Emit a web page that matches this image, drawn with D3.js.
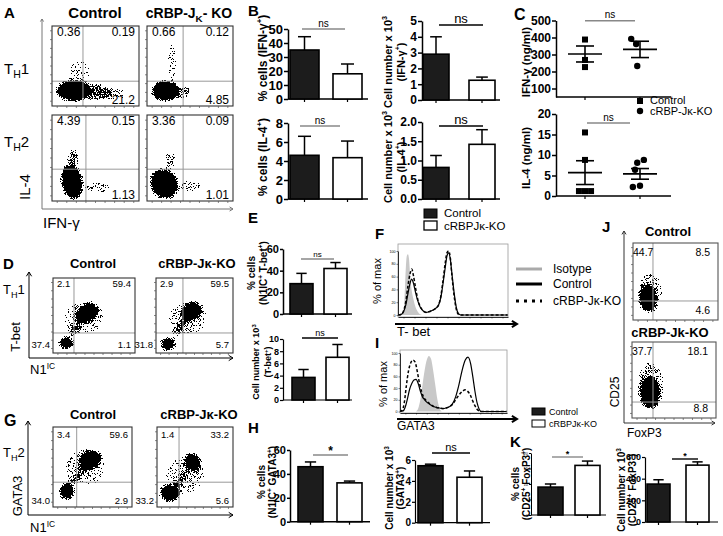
<!DOCTYPE html>
<html><head><meta charset="utf-8">
<script src="https://cdn.jsdelivr.net/npm/d3@7"></script>
<style>
body{margin:0;background:#fff;}
svg{display:block;}
</style></head><body>
<script>
// ================= DATA =================
const groups = ["Control", "cRBPJκ-KO"];

// Panel B
const ifngPctMean = [35, 18];
const ifngPctErrTop = [44.5, 25];
const ifngPctTicks = [0, 10, 20, 30, 40, 50];
const ifngNumMean = [2.9, 1.25];
const ifngNumErrTop = [4.0, 1.45];
const ifngNumTicks = [0, 1, 2, 3, 4, 5];
const il4PctMean = [4.6, 4.35];
const il4PctErrTop = [6.6, 6.1];
const il4PctTicks = [0, 2, 4, 6, 8];
const il4NumMean = [0.82, 1.42];
const il4NumErrTop = [1.13, 1.8];
const il4NumTicks = [0, 0.5, 1.0, 1.5, 2.0];

// Panel C
const ifngConcCtrl = [388, 268, 226];
const ifngConcKo = [392, 362, 232];
const ifngConcCtrlJit = [0, 0, 0];
const ifngConcKoJit = [-0.16, -0.07, -0.05];
const ifngConcMean = [303, 330];
const ifngConcSem = [47, 48];
const ifngConcTicks = [100, 200, 300, 400, 500];
const il4ConcCtrl = [15.5, 8.8, 1.2, 1.2, 1.2];
const il4ConcKo = [8.8, 8.1, 6.4, 2.5, 2.2];
const il4ConcCtrlJit = [0, 0, -0.11, 0, 0.11];
const il4ConcKoJit = [0.07, -0.05, -0.09, 0, -0.13];
const il4ConcMean = [5.7, 5.4];
const il4ConcSem = [2.9, 1.3];
const il4ConcTicks = [0, 5, 10, 15, 20];

// Panel E
const tbetPctMean = [28, 42];
const tbetPctErrTop = [37.5, 47.5];
const tbetPctTicks = [0, 20, 40, 60];
const tbetNumMean = [3.7, 7.0];
const tbetNumErrTop = [5.0, 9.1];
const tbetNumTicks = [0, 2, 4, 6, 8, 10];

// Panel H
const gataPctMean = [46, 32.5];
const gataPctErrTop = [50, 34];
const gataPctTicks = [0, 20, 40, 60];
const gataNumMean = [5.45, 4.35];
const gataNumErrTop = [5.6, 4.95];
const gataNumTicks = [0, 2, 4, 6];

// Panel K
const foxPctMean = [9.0, 16.0];
const foxPctErrTop = [10.0, 17.4];
const foxPctTicks = [0, 5, 10, 15, 20];
const foxNumMean = [350, 525];
const foxNumErrTop = [390, 555];
const foxNumTicks = [0, 200, 400, 600];

// Panels F and I: histograms, [fluorescence (0-100 of axis), % of max]
const tbetIsotype = [[3,0],[5,6],[6,30],[7,70],[8,92],[9,95],[10,88],[11,65],[12,45],[14,25],[16,12],[18,5],[20,1],[22,0]];
const tbetControl = [[0,0],[3,1],[5,5],[7,15],[9,33],[11,50],[12.5,56],[14,50],[16,35],[18,22],[20,13],[22,8],[24,5],[26,4],[28,5],[31,7],[34,10],[37,16],[39,28],[41,50],[43,75],[44.5,92],[46,97],[47.5,88],[49,65],[51,35],[53,12],[55,2],[57,0],[100,0]];
const tbetKo = [[0,0],[3,1],[5,6],[7,20],[9,45],[11,65],[12.5,72],[14,62],[16,42],[18,24],[20,14],[22,8],[24,5],[26,4],[28,5],[31,7],[34,10],[37,16],[39,30],[41,55],[43,82],[44.5,97],[46,100],[47.5,90],[49,62],[51,30],[53,9],[55,1],[57,0],[100,0]];
const gataIsotype = [[15,0],[17,5],[19,20],[21,45],[23,70],[25,88],[27,95],[29,90],[31,70],[33,45],[35,20],[37,5],[39,0]];
const gataControl = [[0,0],[3,1],[5,8],[7,22],[9,38],[11,48],[13,54],[15,55],[17,48],[19,35],[21,25],[23,20],[25,16],[28,12],[31,9],[34,7],[37,6],[40,5],[43,6],[46,8],[49,13],[52,25],[55,45],[58,70],[61,88],[63.5,93],[66,82],[68,60],[70,35],[72,15],[74,4],[76,0],[100,0]];
const gataKo = [[0,0],[2,2],[4,15],[6,45],[8,70],[10,83],[12,88],[14,85],[16,70],[18,50],[20,35],[22,25],[25,18],[28,13],[31,9],[34,7],[37,6],[40,5],[43,6],[46,8],[49,12],[52,20],[55,28],[58,34],[61,37],[63,35],[66,27],[68,18],[70,10],[72,4],[74,1],[76,0],[100,0]];
const histTicks = [0, 20, 40, 60, 80, 100];

// Flow cytometry plots: quadrant gates [x, y] (0-100 of axis), quadrant %, populations
const aTh1CtrlGate = [35.6, 31];
const aTh1CtrlPct = ["0.36", "0.19", "21.2"];
const aTh1CtrlPops = [{cx:25,cy:19,rx:19.5,ry:12.5,rot:0,d:1},{cx:50.6,cy:17.5,rx:16,ry:10,rot:0,d:0.55},{cx:72,cy:15,rx:14,ry:7.5,rot:0,d:0.38},{cx:32,cy:42,rx:16,ry:17,rot:0,d:0.25}];
const aTh1KoGate = [42, 31];
const aTh1KoPct = ["0.66", "0.12", "4.85"];
const aTh1KoPops = [{cx:21,cy:19,rx:15,ry:12.5,rot:0,d:1},{cx:40.7,cy:17.5,rx:11.6,ry:8.7,rot:0,d:0.42},{cx:29,cy:55,rx:7,ry:27,rot:0,d:0.27}];
const aTh2CtrlGate = [39, 37];
const aTh2CtrlPct = ["4.39", "0.15", "1.13"];
const aTh2CtrlPops = [{cx:23,cy:22,rx:11.5,ry:19.8,rot:-10,d:1},{cx:24,cy:50,rx:7,ry:10.5,rot:0,d:0.5},{cx:53,cy:15,rx:16,ry:8,rot:0,d:0.3}];
const aTh2KoGate = [42, 37];
const aTh2KoPct = ["3.36", "0.09", "1.01"];
const aTh2KoPops = [{cx:20,cy:20,rx:15,ry:17.4,rot:-30,d:1},{cx:27,cy:47.7,rx:6,ry:10.5,rot:0,d:0.45},{cx:50,cy:17.4,rx:14,ry:8,rot:0,d:0.3}];

const dCtrlGate = [25.6, 26.7];
const dCtrlPct = ["2.1", "59.4", "1.1", "37.4"];
const dCtrlPops = [{cx:41.5,cy:53,rx:14.6,ry:10.7,rot:-35,d:1},{cx:15.9,cy:13.3,rx:8.5,ry:8,rot:0,d:1},{cx:28,cy:33,rx:12.2,ry:4.7,rot:-50,d:0.55},{cx:37.8,cy:46.7,rx:26.8,ry:24,rot:0,d:0.26}];
const dKoGate = [35, 26.7];
const dKoPct = ["2.9", "59.5", "5.7", "31.8"];
const dKoPops = [{cx:45.5,cy:54.7,rx:14.3,ry:10.7,rot:-35,d:1},{cx:15.6,cy:12,rx:9,ry:8,rot:0,d:1},{cx:31,cy:33,rx:15.6,ry:4.7,rot:-50,d:0.55},{cx:41.6,cy:46.7,rx:28,ry:24,rot:0,d:0.26}];

const gCtrlGate = [30, 31];
const gCtrlPct = ["3.4", "59.6", "2.9", "34.0"];
const gCtrlPops = [{cx:46.8,cy:58.7,rx:13.9,ry:11.2,rot:-30,d:1},{cx:17.7,cy:20,rx:8.9,ry:10,rot:0,d:1},{cx:31.6,cy:38.7,rx:11.4,ry:4.4,rot:-55,d:0.55},{cx:40.5,cy:48.7,rx:27.8,ry:25,rot:0,d:0.26}];
const gKoGate = [29, 31];
const gKoPct = ["1.4", "33.2", "5.6", "33.2"];
const gKoPops = [{cx:47.4,cy:56.2,rx:10.5,ry:11.2,rot:-30,d:0.9},{cx:17.1,cy:17.5,rx:13.2,ry:10,rot:0,d:1},{cx:32.9,cy:36.2,rx:13,ry:4.4,rot:-55,d:0.55},{cx:36.8,cy:40,rx:28,ry:25,rot:0,d:0.26}];

const jCtrlGate = [23.5, 24.7];
const jCtrlPct = ["44.7", "8.5", "4.6"];
const jCtrlPops = [{cx:17.6,cy:28.6,rx:9.4,ry:16.9,rot:0,d:1},{cx:20,cy:36,rx:15.3,ry:26,rot:0,d:0.32}];
const jKoGate = [25, 21];
const jKoPct = ["37.7", "18.1", "8.8"];
const jKoPops = [{cx:21.4,cy:34.2,rx:10.7,ry:21,rot:0,d:1},{cx:22.6,cy:43.4,rx:16.7,ry:31.6,rot:0,d:0.32}];

// ================= DRAWING =================
const W = 723, H = 536;
const FONT = '"Liberation Sans", Arial, Helvetica, sans-serif';
const NARROW = '"Liberation Sans Narrow", "Liberation Sans", Arial, sans-serif';
const svg = d3.select('body').append('svg').attr('width', W).attr('height', H)
  .attr('font-family', FONT);
const defs = svg.append('defs');

// speckle filter to render dense cytometry populations
const flt = defs.append('filter').attr('id', 'speck').attr('filterUnits', 'userSpaceOnUse')
  .attr('x', 0).attr('y', 0).attr('width', W).attr('height', H)
  .attr('color-interpolation-filters', 'sRGB');
flt.append('feGaussianBlur').attr('in', 'SourceAlpha').attr('stdDeviation', 2.2).attr('result', 'blur');
flt.append('feTurbulence').attr('type', 'fractalNoise').attr('baseFrequency', 1.4).attr('numOctaves', 1).attr('seed', 5).attr('result', 'noise');
flt.append('feColorMatrix').attr('in', 'noise').attr('type', 'matrix')
  .attr('values', '0 0 0 0 0  0 0 0 0 0  0 0 0 0 0  4 0 0 0 -1.5').attr('result', 'na');
flt.append('feComposite').attr('in', 'blur').attr('in2', 'na').attr('operator', 'arithmetic')
  .attr('k1', 0).attr('k2', 2.2).attr('k3', -1).attr('k4', 0).attr('result', 'comb');
flt.append('feComponentTransfer').attr('in', 'comb').attr('result', 'thr')
  .append('feFuncA').attr('type', 'discrete').attr('tableValues', '0 1');
flt.append('feColorMatrix').attr('in', 'thr').attr('type', 'matrix')
  .attr('values', '0 0 0 0 0  0 0 0 0 0  0 0 0 0 0  0 0 0 1 0');

const reRich = /(\^\{[^}]*\}|_\{[^}]*\})/;
function rich(sel, str, fs) {
  let shift = 0;
  str.split(reRich).forEach(part => {
    if (!part) return;
    let target = 0, size = fs, t = part;
    if (part.startsWith('^{')) { target = -fs * 0.4; size = fs * 0.65; t = part.slice(2, -1); }
    else if (part.startsWith('_{')) { target = fs * 0.28; size = fs * 0.7; t = part.slice(2, -1); }
    const ts = sel.append('tspan').attr('font-size', size).text(t);
    if (target - shift !== 0) ts.attr('dy', target - shift);
    shift = target;
  });
}
function txt(x, y, s, o = {}) {
  const fs = o.fs || 12;
  const t = svg.append('text').attr('x', x).attr('y', y)
    .attr('font-size', fs).attr('font-weight', o.bold ? 'bold' : 'normal')
    .attr('text-anchor', o.anchor || 'start').attr('fill', o.color || '#000')
    .attr('font-family', o.family || FONT);
  if (o.rot) t.attr('transform', `rotate(${o.rot},${x},${y})`);
  rich(t, s, fs);
  return t;
}
function vlabel(cx, cy, s, fs, bold = true, family = FONT) {
  return txt(cx + fs * 0.35, cy, s, { fs, bold, anchor: 'middle', rot: -90, family });
}
function arrow(x1, y1, x2, y2, o = {}) {
  const g = svg.append('g').attr('stroke', o.color || '#000').attr('stroke-width', o.w || 1).attr('fill', 'none');
  g.append('line').attr('x1', x1).attr('y1', y1).attr('x2', x2).attr('y2', y2);
  const a = Math.atan2(y2 - y1, x2 - x1), h = o.head || 5, s = o.spread || 0.55;
  g.append('path').attr('d', d3.line()([[x2 - h * Math.cos(a - s), y2 - h * Math.sin(a - s)], [x2, y2], [x2 - h * Math.cos(a + s), y2 - h * Math.sin(a + s)]]));
}

// ---------- bar chart ----------
function barChart(L, means, tops, ticks, fmt) {
  const y = d3.scaleLinear().domain([0, d3.max(ticks)]).range([L.y0, L.y1]);
  const x = d3.scaleBand().domain(groups).range([L.bx, L.bx + 2 * L.bw + L.gap])
    .paddingInner(L.gap / (L.bw + L.gap)).paddingOuter(0);
  const g = svg.append('g');
  const ya = g.append('g').attr('transform', `translate(${L.ax},0)`)
    .call(d3.axisLeft(y).tickValues(ticks).tickSize(L.tick || 4).tickSizeOuter(0).tickPadding(1)
      .tickFormat(d3.format(fmt || 'd')));
  ya.attr('font-family', NARROW).attr('font-size', L.fs);
  ya.select('.domain').attr('stroke-width', L.sw || 1.5);
  ya.selectAll('.tick line').attr('stroke-width', L.sw || 1.5);
  ya.selectAll('.tick text').attr('font-weight', L.tickBold === false ? 'normal' : 'bold').attr('fill', '#000');
  g.append('line').attr('x1', L.ax).attr('x2', L.xend).attr('y1', L.y0).attr('y2', L.y0)
    .attr('stroke', '#000').attr('stroke-width', L.sw || 1.5);
  g.selectAll('line.xt').data(groups).join('line').attr('class', 'xt')
    .attr('x1', d => x(d) + x.bandwidth() / 2).attr('x2', d => x(d) + x.bandwidth() / 2)
    .attr('y1', L.y0).attr('y2', L.y0 + 3).attr('stroke', '#000').attr('stroke-width', 1.2);
  const cap = x.bandwidth() * 0.45;
  g.selectAll('line.err').data(groups).join('line').attr('class', 'err')
    .attr('x1', d => x(d) + x.bandwidth() / 2).attr('x2', d => x(d) + x.bandwidth() / 2)
    .attr('y1', (d, i) => y(means[i])).attr('y2', (d, i) => y(tops[i]))
    .attr('stroke', '#000').attr('stroke-width', 1.5);
  g.selectAll('line.cap').data(groups).join('line').attr('class', 'cap')
    .attr('x1', d => x(d) + x.bandwidth() / 2 - cap / 2).attr('x2', d => x(d) + x.bandwidth() / 2 + cap / 2)
    .attr('y1', (d, i) => y(tops[i])).attr('y2', (d, i) => y(tops[i]))
    .attr('stroke', '#000').attr('stroke-width', 1.5);
  g.selectAll('rect.bar').data(groups).join('rect').attr('class', 'bar')
    .attr('x', d => x(d)).attr('width', x.bandwidth())
    .attr('y', (d, i) => y(means[i])).attr('height', (d, i) => L.y0 - y(means[i]))
    .attr('fill', (d, i) => i ? '#fff' : '#1c1c1c').attr('stroke', '#000').attr('stroke-width', 1.6);
  g.append('line').attr('x1', L.sig[0]).attr('x2', L.sig[1]).attr('y1', L.sig[2]).attr('y2', L.sig[2])
    .attr('stroke', L.sigColor).attr('stroke-width', 1.4);
  g.append('text').attr('x', (L.sig[0] + L.sig[1]) / 2).attr('y', L.sig[2] - (L.sigText === '*' ? 0 : 2.5))
    .attr('text-anchor', 'middle').attr('font-size', L.sigText === '*' ? L.sigFs + 2 : L.sigFs)
    .attr('font-family', NARROW).attr('font-weight', L.sigText === '*' ? 'bold' : 'normal').text(L.sigText);
  L.lab.forEach((s, i) => vlabel(L.labX[i], L.labY, s, L.labFs));
}

// ---------- dot plot (panel C) ----------
function dotChart(L, ctrl, ko, ctrlJit, koJit, means, sems, ticks) {
  const y = d3.scaleLinear().domain(L.dom).range([L.y0, L.y1]);
  const x = d3.scalePoint().domain(groups).range(L.xr);
  const st = x.step();
  const g = svg.append('g');
  const ya = g.append('g').attr('transform', `translate(${L.ax},0)`)
    .call(d3.axisLeft(y).tickValues(ticks).tickSize(4).tickSizeOuter(0).tickPadding(1));
  ya.attr('font-family', NARROW).attr('font-size', L.fs);
  ya.select('.domain').attr('stroke-width', 1.5);
  ya.selectAll('.tick line').attr('stroke-width', 1.5);
  ya.selectAll('.tick text').attr('font-weight', 'bold');
  g.append('line').attr('x1', L.ax).attr('x2', L.xend).attr('y1', L.y0).attr('y2', L.y0).attr('stroke', '#000').attr('stroke-width', 1.5);
  g.selectAll('line.xt').data(groups).join('line').attr('class', 'xt')
    .attr('x1', d => x(d)).attr('x2', d => x(d)).attr('y1', L.y0).attr('y2', L.y0 + 3).attr('stroke', '#000').attr('stroke-width', 1.2);
  groups.forEach((gr, i) => {
    const cx = x(gr);
    g.append('line').attr('x1', cx - 17).attr('x2', cx + 17).attr('y1', y(means[i])).attr('y2', y(means[i])).attr('stroke', '#000').attr('stroke-width', 1.6);
    [means[i] - sems[i], means[i] + sems[i]].forEach(v =>
      g.append('line').attr('x1', cx - 9).attr('x2', cx + 9).attr('y1', y(v)).attr('y2', y(v)).attr('stroke', '#000').attr('stroke-width', 1.6));
    g.append('line').attr('x1', cx).attr('x2', cx).attr('y1', y(means[i] - sems[i])).attr('y2', y(means[i] + sems[i])).attr('stroke', '#000').attr('stroke-width', 1.6);
  });
  g.selectAll('rect.pt').data(ctrl).join('rect').attr('class', 'pt')
    .attr('x', (d, i) => x(groups[0]) + ctrlJit[i] * st - 3).attr('y', d => y(d) - 3)
    .attr('width', 6).attr('height', 6).attr('fill', '#000');
  g.selectAll('circle.pt').data(ko).join('circle').attr('class', 'pt')
    .attr('cx', (d, i) => x(groups[1]) + koJit[i] * st).attr('cy', d => y(d)).attr('r', 3.2).attr('fill', '#000');
  g.append('line').attr('x1', L.sig[0]).attr('x2', L.sig[1]).attr('y1', L.sig[2]).attr('y2', L.sig[2]).attr('stroke', '#888').attr('stroke-width', 1.4);
  g.append('text').attr('x', (L.sig[0] + L.sig[1]) / 2).attr('y', L.sig[2] - 2.5).attr('text-anchor', 'middle')
    .attr('font-size', 10).attr('font-family', NARROW).text('ns');
  vlabel(L.labX, L.labY, L.lab, L.labFs);
}

// ---------- histogram ----------
function histo(L, iso, ctrl, ko) {
  const x = d3.scaleLinear().domain([0, 100]).range([L.x0, L.x1]);
  const y = d3.scaleLinear().domain([0, 100]).range([L.y0, L.y1]);
  const g = svg.append('g');
  g.append('path').datum(iso)
    .attr('d', d3.area().x(d => x(d[0])).y0(y(0)).y1(d => y(d[1])).curve(d3.curveMonotoneX))
    .attr('fill', '#c8c8c8');
  g.append('path').datum(ctrl)
    .attr('d', d3.line().x(d => x(d[0])).y(d => y(d[1])).curve(d3.curveMonotoneX))
    .attr('fill', 'none').attr('stroke', '#000').attr('stroke-width', 1.2);
  g.append('path').datum(ko)
    .attr('d', d3.line().x(d => x(d[0])).y(d => y(d[1])).curve(d3.curveMonotoneX))
    .attr('fill', 'none').attr('stroke', '#000').attr('stroke-width', 1.5).attr('stroke-dasharray', '3,2');
  g.append('rect').attr('x', L.x0).attr('y', L.top).attr('width', L.x1 - L.x0).attr('height', L.bottom - L.top)
    .attr('fill', 'none').attr('stroke', '#999').attr('stroke-width', 0.8);
  const ya = g.append('g').attr('transform', `translate(${L.x0},0)`)
    .call(d3.axisLeft(y).tickValues(histTicks).tickSize(1.5).tickSizeOuter(0).tickPadding(1));
  ya.attr('font-size', 3.6).attr('font-family', FONT);
  ya.select('.domain').attr('stroke-width', 0.8);
  ya.selectAll('line').attr('stroke-width', 0.5);
  const xa = g.append('g').attr('transform', `translate(0,${L.bottom})`)
    .call(d3.axisBottom(x).tickValues(d3.range(5, 100, 10)).tickSize(1.5).tickSizeOuter(0).tickFormat(''));
  xa.select('.domain').attr('stroke-width', 0.8);
  xa.selectAll('line').attr('stroke-width', 0.5);
}

// ---------- flow plot ----------
let clipN = 0;
function flowPlot(box, gate, pops, pct, o) {
  const [x0, y0, x1, y1] = box;
  const x = d3.scaleLinear().domain([0, 100]).range([x0, x1]);
  const y = d3.scaleLinear().domain([0, 100]).range([y1, y0]);
  const id = 'clip' + (clipN++);
  defs.append('clipPath').attr('id', id).append('rect').attr('x', x0).attr('y', y0).attr('width', x1 - x0).attr('height', y1 - y0);
  const g = svg.append('g');
  g.append('g').attr('clip-path', `url(#${id})`).append('g').attr('filter', 'url(#speck)')
    .selectAll('ellipse').data(pops).join('ellipse')
    .attr('cx', d => x(d.cx)).attr('cy', d => y(d.cy))
    .attr('rx', d => x(d.rx) - x(0)).attr('ry', d => y(0) - y(d.ry))
    .attr('transform', d => `rotate(${d.rot},${x(d.cx)},${y(d.cy)})`)
    .attr('fill', '#000').attr('fill-opacity', d => d.d);
  g.append('line').attr('x1', x(gate[0])).attr('x2', x(gate[0])).attr('y1', y0).attr('y2', y1).attr('stroke', '#999').attr('stroke-width', 1);
  g.append('line').attr('x1', x0).attr('x2', x1).attr('y1', y(gate[1])).attr('y2', y(gate[1])).attr('stroke', '#999').attr('stroke-width', 1);
  g.append('rect').attr('x', x0).attr('y', y0).attr('width', x1 - x0).attr('height', y1 - y0)
    .attr('fill', 'none').attr('stroke', o.border || '#333').attr('stroke-width', 1.1);
  const tk = d3.range(6, 100, 11);
  g.selectAll('line.ty').data(tk).join('line').attr('x1', x0).attr('x2', x0 - 2).attr('y1', d => y(d)).attr('y2', d => y(d)).attr('stroke', '#555').attr('stroke-width', 0.7);
  g.selectAll('line.tx').data(tk).join('line').attr('y1', y1).attr('y2', y1 + 2).attr('x1', d => x(d)).attr('x2', d => x(d)).attr('stroke', '#555').attr('stroke-width', 0.7);
  const fs = o.fs;
  txt(x0 + o.ulDx, y0 + o.topDy, pct[0], { fs });
  txt(x1 - o.urDx, y0 + o.topDy, pct[1], { fs, anchor: 'end' });
  txt(x1 - o.urDx, y1 - o.botDy, pct[2], { fs, anchor: 'end' });
  if (pct[3]) txt(x0 - 3, y1 - o.botDy, pct[3], { fs, anchor: 'end' });
}

// ======== Panel A ========
txt(4, 18, 'A', { fs: 15, bold: true });
txt(95, 18, 'Control', { fs: 15, bold: true, anchor: 'middle' });
txt(189, 18, 'cRBP-J_{K}- KO', { fs: 14, bold: true, anchor: 'middle' });
txt(4, 74, 'T_{H}1', { fs: 15 });
txt(4, 147, 'T_{H}2', { fs: 15 });
arrow(42, 209, 42, 19, { color: '#777', head: 3 });
arrow(42, 209, 233, 209, { color: '#777', head: 4 });
vlabel(25, 187, 'IL-4', 15, false);
txt(43, 228, 'IFN-γ', { fs: 15 });
const optA = { fs: 12, topDy: 10, botDy: 2.5, ulDx: 5, urDx: 4 };
flowPlot([52, 26, 139, 106], aTh1CtrlGate, aTh1CtrlPops, aTh1CtrlPct, optA);
flowPlot([147, 26, 233, 106], aTh1KoGate, aTh1KoPops, aTh1KoPct, optA);
flowPlot([52, 115, 139, 201], aTh2CtrlGate, aTh2CtrlPops, aTh2CtrlPct, optA);
flowPlot([147, 115, 233, 201], aTh2KoGate, aTh2KoPops, aTh2KoPct, optA);

// ======== Panel B ========
txt(248, 16, 'B', { fs: 15, bold: true });
barChart({ ax: 288, y0: 99, y1: 29, bx: 290, bw: 29, gap: 14, xend: 368, fs: 13, sig: [302, 345, 29], sigColor: '#888', sigText: 'ns', sigFs: 10,
  lab: ['% cells (IFN-γ^{+})'], labX: [263], labY: 58, labFs: 12 }, ifngPctMean, ifngPctErrTop, ifngPctTicks);
barChart({ ax: 422, y0: 100, y1: 21, bx: 423, bw: 26, gap: 20, xend: 500, fs: 12, sig: [439, 483, 25], sigColor: '#000', sigText: 'ns', sigFs: 13,
  lab: ['Cell number x 10^{3}', '(IFN-γ^{+})'], labX: [388, 401], labY: 62, labFs: 11 }, ifngNumMean, ifngNumErrTop, ifngNumTicks);
barChart({ ax: 288, y0: 199, y1: 123, bx: 290, bw: 29, gap: 14, xend: 368, fs: 13, sig: [300, 340, 126], sigColor: '#888', sigText: 'ns', sigFs: 10,
  lab: ['% cells (IL-4^{+})'], labX: [263], labY: 157, labFs: 12 }, il4PctMean, il4PctErrTop, il4PctTicks);
barChart({ ax: 422, y0: 199, y1: 122, bx: 423, bw: 26, gap: 20, xend: 500, fs: 12, sig: [439, 483, 126], sigColor: '#000', sigText: 'ns', sigFs: 13,
  lab: ['Cell number x 10^{3}', '(IL-4^{+})'], labX: [388, 401], labY: 157, labFs: 11 }, il4NumMean, il4NumErrTop, il4NumTicks, '.1f');
svg.append('rect').attr('x', 424).attr('y', 209).attr('width', 13).attr('height', 9).attr('fill', '#1c1c1c').attr('stroke', '#000');
svg.append('rect').attr('x', 424).attr('y', 221).attr('width', 13).attr('height', 9).attr('fill', '#fff').attr('stroke', '#000').attr('stroke-width', 1.3);
txt(444, 217, groups[0], { fs: 11.5 });
txt(444, 230, groups[1], { fs: 11.5 });

// ======== Panel C ========
txt(514, 20, 'C', { fs: 16, bold: true });
dotChart({ ax: 556, y0: 97, y1: 20.5, dom: [50, 500], xr: [585, 640], xend: 671, fs: 12, sig: [585, 635, 20.7], lab: 'IFN-γ (ng/ml)', labX: 526, labY: 62, labFs: 11.5 },
  ifngConcCtrl, ifngConcKo, ifngConcCtrlJit, ifngConcKoJit, ifngConcMean, ifngConcSem, ifngConcTicks);
dotChart({ ax: 556, y0: 196, y1: 114, dom: [0, 20], xr: [585, 640], xend: 671, fs: 12, sig: [587, 630, 123], lab: 'IL-4 (ng/ml)', labX: 526, labY: 158, labFs: 11.5 },
  il4ConcCtrl, il4ConcKo, il4ConcCtrlJit, il4ConcKoJit, il4ConcMean, il4ConcSem, il4ConcTicks);
svg.append('rect').attr('x', 637).attr('y', 98).attr('width', 6).attr('height', 6).attr('fill', '#000');
svg.append('circle').attr('cx', 640).attr('cy', 111).attr('r', 3.2).attr('fill', '#000');
txt(650, 104, 'Control', { fs: 11 });
txt(650, 115, 'cRBP-Jκ-KO', { fs: 11 });

// ======== Panel D ========
txt(3, 269, 'D', { fs: 15, bold: true });
txt(93, 268, 'Control', { fs: 13, bold: true, anchor: 'middle' });
txt(197, 268, 'cRBP-Jκ-KO', { fs: 13, bold: true, anchor: 'middle' });
txt(3, 294, 'T_{H}1', { fs: 13 });
arrow(29, 358, 29, 272, { head: 5 });
arrow(29, 358, 233, 358, { head: 5 });
vlabel(15, 337, 'T-bet', 13, false);
txt(30, 374, 'N1^{IC}', { fs: 13 });
const optDG = { fs: 9.5, topDy: 9, botDy: 5, ulDx: 4, urDx: 4 };
flowPlot([53, 278, 135, 353], dCtrlGate, dCtrlPops, dCtrlPct, optDG);
flowPlot([156, 278, 233, 353], dKoGate, dKoPops, dKoPct, optDG);

// ======== Panel E ========
txt(248, 223, 'E', { fs: 15, bold: true });
barChart({ ax: 283, y0: 314, y1: 249, bx: 290, bw: 23, gap: 11, xend: 352, fs: 11, tick: 3, sig: [301, 334, 259], sigColor: '#888', sigText: 'ns', sigFs: 8,
  lab: ['% cells', '(N1IC^{+} T-bet^{+})'], labX: [251, 263], labY: 273, labFs: 10 }, tbetPctMean, tbetPctErrTop, tbetPctTicks);
barChart({ ax: 283, y0: 400, y1: 339, bx: 292, bw: 23, gap: 11, xend: 352, fs: 9, tick: 3, sw: 1.2, sig: [302, 338, 338], sigColor: '#000', sigText: 'ns', sigFs: 9,
  lab: ['Cell number x 10^{3}', '(T-bet^{+})'], labX: [256, 268], labY: 362, labFs: 9 }, tbetNumMean, tbetNumErrTop, tbetNumTicks);

// ======== Panel F ========
txt(375, 239, 'F', { fs: 15, bold: true });
histo({ x0: 398, x1: 508, y0: 315, y1: 251, top: 244, bottom: 317 }, tbetIsotype, tbetControl, tbetKo);
vlabel(377, 281, '% of max', 11, false);
arrow(395, 324, 517, 324, { w: 2, head: 6 });
txt(397, 336, 'T- bet', { fs: 13 });
svg.append('line').attr('x1', 516).attr('x2', 542).attr('y1', 269).attr('y2', 269).attr('stroke', '#aaa').attr('stroke-width', 3);
svg.append('line').attr('x1', 516).attr('x2', 542).attr('y1', 284).attr('y2', 284).attr('stroke', '#000').attr('stroke-width', 3);
svg.append('line').attr('x1', 516).attr('x2', 542).attr('y1', 301).attr('y2', 301).attr('stroke', '#000').attr('stroke-width', 3).attr('stroke-dasharray', '3,5');
txt(553, 273, 'Isotype', { fs: 12 });
txt(553, 288, 'Control', { fs: 12 });
txt(553, 305, 'cRBP-Jκ-KO', { fs: 12 });

// ======== Panel G ========
txt(4, 426, 'G', { fs: 16, bold: true });
txt(93, 419, 'Control', { fs: 13, bold: true, anchor: 'middle' });
txt(199, 419, 'cRBP-Jκ-KO', { fs: 13, bold: true, anchor: 'middle' });
txt(3, 457, 'T_{H}2', { fs: 13 });
arrow(28, 515, 28, 421, { head: 5 });
arrow(28, 515, 233, 515, { head: 5 });
vlabel(17, 496, 'GATA3', 13, false);
txt(30, 532, 'N1^{IC}', { fs: 13 });
const optG = { fs: 9.5, topDy: 11, botDy: 3, ulDx: 4, urDx: 4 };
flowPlot([53, 427, 132, 507], gCtrlGate, gCtrlPops, gCtrlPct, optG);
flowPlot([157, 427, 233, 507], gKoGate, gKoPops, gKoPct, optG);

// ======== Panel H ========
txt(248, 433, 'H', { fs: 15, bold: true });
barChart({ ax: 290, y0: 521.7, y1: 450, bx: 298, bw: 25, gap: 14, xend: 370, fs: 11, tick: 3, sig: [313, 348, 455], sigColor: '#888', sigText: '*', sigFs: 10,
  lab: ['% cells', '(N1IC^{+} GATA3^{+})'], labX: [261, 272], labY: 482, labFs: 10 }, gataPctMean, gataPctErrTop, gataPctTicks);
barChart({ ax: 415, y0: 522.7, y1: 460, bx: 418, bw: 25, gap: 14, xend: 490, fs: 10, tick: 3, sw: 1.2, sig: [432, 470, 453], sigColor: '#000', sigText: 'ns', sigFs: 11,
  lab: ['Cell number x 10^{3}', '(GATA3^{+})'], labX: [389, 400], labY: 488, labFs: 10 }, gataNumMean, gataNumErrTop, gataNumTicks);

// ======== Panel I ========
txt(375, 348, 'I', { fs: 15, bold: true });
histo({ x0: 400, x1: 507, y0: 411.5, y1: 353, top: 350, bottom: 413 }, gataIsotype, gataControl, gataKo);
vlabel(383, 384, '% of max', 11, false);
arrow(397, 419, 517, 419, { w: 2, head: 6 });
txt(397, 430, 'GATA3', { fs: 12 });
svg.append('rect').attr('x', 532).attr('y', 408).attr('width', 13).attr('height', 7).attr('fill', '#1c1c1c').attr('stroke', '#000');
svg.append('rect').attr('x', 532).attr('y', 420).attr('width', 13).attr('height', 7).attr('fill', '#fff').attr('stroke', '#000');
txt(549, 415, groups[0], { fs: 9 });
txt(549, 427, groups[1], { fs: 9 });

// ======== Panel J ========
txt(602, 232, 'J', { fs: 15, bold: true });
txt(668, 236, 'Control', { fs: 13, bold: true, anchor: 'middle' });
txt(670, 337, 'cRBP-Jk-KO', { fs: 13, bold: true, anchor: 'middle' });
arrow(624, 423, 624, 231, { head: 4, color: '#333' });
arrow(624, 423, 715, 423, { head: 4, color: '#333' });
vlabel(615, 392, 'CD25', 12, false);
txt(627, 437, 'FoxP3', { fs: 12 });
const optJ = { fs: 10.5, topDy: 13, botDy: 6, ulDx: 0, urDx: 8, border: '#555' };
flowPlot([633, 243, 718, 320], jCtrlGate, jCtrlPops, jCtrlPct, optJ);
flowPlot([632, 342, 716, 418], jKoGate, jKoPops, jKoPct, optJ);

// ======== Panel K ========
txt(510, 447, 'K', { fs: 15, bold: true });
barChart({ ax: 531, y0: 515, y1: 453, bx: 538, bw: 25, gap: 12, xend: 606, fs: 4, tick: 2, sw: 1, tickBold: false, sig: [552, 583, 457], sigColor: '#888', sigText: '*', sigFs: 7,
  lab: ['% cells', '(CD25^{+} FoxP3^{+})'], labX: [515, 526], labY: 484, labFs: 10 }, foxPctMean, foxPctErrTop, foxPctTicks);
barChart({ ax: 645, y0: 522, y1: 457, bx: 647, bw: 23, gap: 16, xend: 718, fs: 9, tick: 3, sw: 1.2, sig: [672, 698, 459], sigColor: '#000', sigText: '*', sigFs: 7,
  lab: ['Cell number x 10^{3}', '(CD25^{+} FoxP3^{+})'], labX: [621, 632], labY: 490, labFs: 10 }, foxNumMean, foxNumErrTop, foxNumTicks);
</script></body></html>
